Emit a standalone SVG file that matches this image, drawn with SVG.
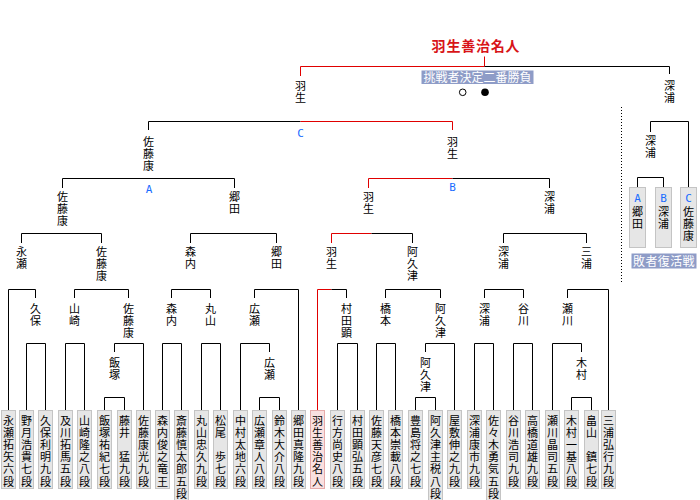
<svg xmlns="http://www.w3.org/2000/svg" width="700" height="500" viewBox="0 0 700 500">
<style>
text{font-family:"Liberation Sans","Noto Sans CJK JP","Noto Sans CJK SC",sans-serif;font-size:11px;fill:#000;text-anchor:middle}
.ln{fill:none;stroke:#000;stroke-width:1}
.rd{fill:none;stroke:#e00000;stroke-width:1}
.box{fill:#e6e6e6;stroke:#c4c4c4;stroke-width:1}
.pink{fill:#f9e0e0;stroke:#e6abab;stroke-width:1}
.abc{font-family:"DejaVu Sans Mono","Liberation Mono",monospace;font-size:11px;fill:#1a6cff}
.badge{fill:#8e9cc7}
.wt{fill:#fff;font-size:12px}
.title{font-size:14px;font-weight:bold;fill:#d81418;letter-spacing:0.8px}
</style>
<rect width="700" height="500" fill="#fff"/>

<g id="connectors">
<path class="rd" d="M300.5 76 V66.5 H484.5 M484.5 56.5 V66.5"/>
<path class="ln" d="M484.5 66.5 H669.5 V74"/>
<path class="ln" d="M148.5 130 V121.5 H300.5"/>
<path class="rd" d="M300.5 121.5 H452.5 V130"/>
<path class="ln" d="M650.5 132 V121.5 H688.5 V187.5 M637.5 187.5 V177.5 H663.5 V187.5"/>
<path class="ln" d="M62.5 188 V178.5 H234.5 V188"/>
<path class="rd" d="M368.5 188 V178.5 H452.5"/>
<path class="ln" d="M452.5 178.5 H549.5 V188"/>
<path class="ln" d="M21.5 243 V233.5 H101.5 V243 M190.5 243 V233.5 H276.5 V243 M503.5 243 V233.5 H586.5 V243"/>
<path class="rd" d="M331.5 243 V233.5 H371.5"/>
<path class="ln" d="M371.5 233.5 H412.5 V243"/>
<path class="ln" d="M8.5 410 V289.5 H35.5 V298 M74.5 298 V289.5 H128.5 V298 M171.5 298 V289.5 H210.5 V298 M254.5 298 V289.5 H298.5 V410 M385.5 298 V289.5 H440.5 V298 M484.5 298 V289.5 H523.5 V298 M567.5 298 V289.5 H608.5 V410"/>
<path class="rd" d="M317.5 410 V289.5 H331.5"/>
<path class="ln" d="M331.5 289.5 H346.5 V298"/>
<path class="ln" d="M26.5 410 V343.5 H45.5 V410 M65.5 410 V343.5 H84.5 V410 M114.5 352 V343.5 H143.5 V410 M162.5 410 V343.5 H181.5 V410 M201.5 410 V343.5 H220.5 V410 M240.5 410 V343.5 H269.5 V352 M337.5 410 V343.5 H357.5 V410 M376.5 410 V343.5 H395.5 V410 M425.5 352 V343.5 H454.5 V410 M474.5 410 V343.5 H493.5 V410 M513.5 410 V343.5 H532.5 V410 M552.5 410 V343.5 H581.5 V352"/>
<path class="ln" d="M104.5 410 V397.5 H124.5 V410 M259.5 410 V397.5 H279.5 V410 M415.5 410 V397.5 H435.5 V410 M571.5 410 V397.5 H591.5 V410"/>
<path class="ln" d="M621.5 107 V282" stroke-dasharray="1 2"/>
</g>

<g id="title">
<text class="title" x="476" y="50.5">羽生善治名人</text>
</g>
<g id="final-badge">
<rect class="badge" x="421.5" y="70.5" width="112" height="13.5"/>
<text class="wt" x="477.5" y="82">挑戦者決定二番勝負</text>
<circle cx="462.7" cy="92.3" r="3.3" fill="#fff" stroke="#000" stroke-width="1"/>
<circle cx="485" cy="92.3" r="3.8" fill="#000"/>
</g>

<g id="mark-C"><text class="abc" x="300.5" y="136.5">C</text></g>
<g id="mark-A"><text class="abc" x="149" y="192.5">A</text></g>
<g id="mark-B"><text class="abc" x="452.5" y="191">B</text></g>

<!-- level 1 -->
<g id="r1-habu"><text x="300.5" y="89.7"><tspan x="300.5" y="89.7">羽</tspan><tspan x="300.5" y="101.7">生</tspan></text></g>
<g id="r1-fukaura"><text x="669.5" y="89.7"><tspan x="669.5" y="89.7">深</tspan><tspan x="669.5" y="101.7">浦</tspan></text></g>
<!-- level 2 -->
<g id="r2-satoyasu"><text x="148.5" y="146.2"><tspan x="148.5" y="146.2">佐</tspan><tspan x="148.5" y="158.2">藤</tspan><tspan x="148.5" y="170.2">康</tspan></text></g>
<g id="r2-habu"><text x="452.5" y="145.5"><tspan x="452.5" y="145.5">羽</tspan><tspan x="452.5" y="157.5">生</tspan></text></g>
<g id="rf-fukaura"><text x="650.5" y="145"><tspan x="650.5" y="145">深</tspan><tspan x="650.5" y="157">浦</tspan></text></g>
<!-- level 3 -->
<g id="r3-satoyasu"><text x="62.5" y="201.4"><tspan x="62.5" y="201.4">佐</tspan><tspan x="62.5" y="213.4">藤</tspan><tspan x="62.5" y="225.4">康</tspan></text></g>
<g id="r3-goda"><text x="234.5" y="201.4"><tspan x="234.5" y="201.4">郷</tspan><tspan x="234.5" y="213.4">田</tspan></text></g>
<g id="r3-habu"><text x="368.5" y="201.4"><tspan x="368.5" y="201.4">羽</tspan><tspan x="368.5" y="213.4">生</tspan></text></g>
<g id="r3-fukaura"><text x="549.5" y="201.4"><tspan x="549.5" y="201.4">深</tspan><tspan x="549.5" y="213.4">浦</tspan></text></g>
<!-- level 4 -->
<g id="r4-nagase"><text x="21.5" y="256.4"><tspan x="21.5" y="256.4">永</tspan><tspan x="21.5" y="268.4">瀬</tspan></text></g>
<g id="r4-satoyasu"><text x="101.5" y="256.4"><tspan x="101.5" y="256.4">佐</tspan><tspan x="101.5" y="268.4">藤</tspan><tspan x="101.5" y="280.4">康</tspan></text></g>
<g id="r4-moriuchi"><text x="190.5" y="256.4"><tspan x="190.5" y="256.4">森</tspan><tspan x="190.5" y="268.4">内</tspan></text></g>
<g id="r4-goda"><text x="276.5" y="256.4"><tspan x="276.5" y="256.4">郷</tspan><tspan x="276.5" y="268.4">田</tspan></text></g>
<g id="r4-habu"><text x="331.5" y="256.4"><tspan x="331.5" y="256.4">羽</tspan><tspan x="331.5" y="268.4">生</tspan></text></g>
<g id="r4-akutsu"><text x="412.5" y="256.4"><tspan x="412.5" y="256.4">阿</tspan><tspan x="412.5" y="268.4">久</tspan><tspan x="412.5" y="280.4">津</tspan></text></g>
<g id="r4-fukaura"><text x="503.5" y="256.4"><tspan x="503.5" y="256.4">深</tspan><tspan x="503.5" y="268.4">浦</tspan></text></g>
<g id="r4-miura"><text x="586.5" y="256.4"><tspan x="586.5" y="256.4">三</tspan><tspan x="586.5" y="268.4">浦</tspan></text></g>
<!-- level 5 -->
<g id="r5-kubo"><text x="35.5" y="312.7"><tspan x="35.5" y="312.7">久</tspan><tspan x="35.5" y="324.7">保</tspan></text></g>
<g id="r5-yamasaki"><text x="74.5" y="312.7"><tspan x="74.5" y="312.7">山</tspan><tspan x="74.5" y="324.7">崎</tspan></text></g>
<g id="r5-satoyasu"><text x="128.5" y="312.7"><tspan x="128.5" y="312.7">佐</tspan><tspan x="128.5" y="324.7">藤</tspan><tspan x="128.5" y="336.7">康</tspan></text></g>
<g id="r5-moriuchi"><text x="171.5" y="312.7"><tspan x="171.5" y="312.7">森</tspan><tspan x="171.5" y="324.7">内</tspan></text></g>
<g id="r5-maruyama"><text x="210.5" y="312.7"><tspan x="210.5" y="312.7">丸</tspan><tspan x="210.5" y="324.7">山</tspan></text></g>
<g id="r5-hirose"><text x="254.5" y="312.7"><tspan x="254.5" y="312.7">広</tspan><tspan x="254.5" y="324.7">瀬</tspan></text></g>
<g id="r5-murata"><text x="346.5" y="312.7"><tspan x="346.5" y="312.7">村</tspan><tspan x="346.5" y="324.7">田</tspan><tspan x="346.5" y="336.7">顕</tspan></text></g>
<g id="r5-hashimoto"><text x="385.5" y="312.7"><tspan x="385.5" y="312.7">橋</tspan><tspan x="385.5" y="324.7">本</tspan></text></g>
<g id="r5-akutsu"><text x="440.5" y="312.7"><tspan x="440.5" y="312.7">阿</tspan><tspan x="440.5" y="324.7">久</tspan><tspan x="440.5" y="336.7">津</tspan></text></g>
<g id="r5-fukaura"><text x="484.5" y="312.7"><tspan x="484.5" y="312.7">深</tspan><tspan x="484.5" y="324.7">浦</tspan></text></g>
<g id="r5-tanigawa"><text x="523.5" y="312.7"><tspan x="523.5" y="312.7">谷</tspan><tspan x="523.5" y="324.7">川</tspan></text></g>
<g id="r5-segawa"><text x="567.5" y="312.7"><tspan x="567.5" y="312.7">瀬</tspan><tspan x="567.5" y="324.7">川</tspan></text></g>
<!-- level 6 -->
<g id="r6-iizuka"><text x="114.5" y="366.7"><tspan x="114.5" y="366.7">飯</tspan><tspan x="114.5" y="378.7">塚</tspan></text></g>
<g id="r6-hirose"><text x="269.5" y="366.7"><tspan x="269.5" y="366.7">広</tspan><tspan x="269.5" y="378.7">瀬</tspan></text></g>
<g id="r6-akutsu"><text x="425.5" y="366.7"><tspan x="425.5" y="366.7">阿</tspan><tspan x="425.5" y="378.7">久</tspan><tspan x="425.5" y="390.7">津</tspan></text></g>
<g id="r6-kimura"><text x="581.5" y="366.7"><tspan x="581.5" y="366.7">木</tspan><tspan x="581.5" y="378.7">村</tspan></text></g>

<!-- repechage boxes -->
<g id="rep-A"><rect class="box" x="629.5" y="187.5" width="16" height="60"/><text class="abc" x="637.5" y="201.5">A</text><text x="637.5" y="216.4"><tspan x="637.5" y="216.4">郷</tspan><tspan x="637.5" y="228.4">田</tspan></text></g>
<g id="rep-B"><rect class="box" x="655.5" y="187.5" width="16" height="60"/><text class="abc" x="663.5" y="201.5">B</text><text x="663.5" y="216.4"><tspan x="663.5" y="216.4">深</tspan><tspan x="663.5" y="228.4">浦</tspan></text></g>
<g id="rep-C"><rect class="box" x="680.5" y="187.5" width="16" height="60"/><text class="abc" x="688.5" y="201.5">C</text><text x="688.5" y="216.4"><tspan x="688.5" y="216.4">佐</tspan><tspan x="688.5" y="228.4">藤</tspan><tspan x="688.5" y="240.4">康</tspan></text></g>
<g id="rep-badge"><rect class="badge" x="631.5" y="253.5" width="65" height="15"/><text class="wt" x="664" y="265.5" style="letter-spacing:0.4px">敗者復活戦</text></g>

<!-- leaves -->
<g id="p00"><rect class="box" x="1.5" y="410.5" width="14" height="78"/><text x="8.5" y="424.5"><tspan x="8.5" y="424.5">永</tspan><tspan x="8.5" y="436.7">瀬</tspan><tspan x="8.5" y="448.9">拓</tspan><tspan x="8.5" y="461.1">矢</tspan><tspan x="8.5" y="473.3">六</tspan><tspan x="8.5" y="485.5">段</tspan></text></g>
<g id="p01"><rect class="box" x="19.5" y="410.5" width="14" height="78"/><text x="26.5" y="424.5"><tspan x="26.5" y="424.5">野</tspan><tspan x="26.5" y="436.7">月</tspan><tspan x="26.5" y="448.9">浩</tspan><tspan x="26.5" y="461.1">貴</tspan><tspan x="26.5" y="473.3">七</tspan><tspan x="26.5" y="485.5">段</tspan></text></g>
<g id="p02"><rect class="box" x="38.5" y="410.5" width="14" height="78"/><text x="45.5" y="424.5"><tspan x="45.5" y="424.5">久</tspan><tspan x="45.5" y="436.7">保</tspan><tspan x="45.5" y="448.9">利</tspan><tspan x="45.5" y="461.1">明</tspan><tspan x="45.5" y="473.3">九</tspan><tspan x="45.5" y="485.5">段</tspan></text></g>
<g id="p03"><rect class="box" x="58.5" y="410.5" width="14" height="78"/><text x="65.5" y="424.5"><tspan x="65.5" y="424.5">及</tspan><tspan x="65.5" y="436.7">川</tspan><tspan x="65.5" y="448.9">拓</tspan><tspan x="65.5" y="461.1">馬</tspan><tspan x="65.5" y="473.3">五</tspan><tspan x="65.5" y="485.5">段</tspan></text></g>
<g id="p04"><rect class="box" x="77.5" y="410.5" width="14" height="78"/><text x="84.5" y="424.5"><tspan x="84.5" y="424.5">山</tspan><tspan x="84.5" y="436.7">崎</tspan><tspan x="84.5" y="448.9">隆</tspan><tspan x="84.5" y="461.1">之</tspan><tspan x="84.5" y="473.3">八</tspan><tspan x="84.5" y="485.5">段</tspan></text></g>
<g id="p05"><rect class="box" x="97.5" y="410.5" width="14" height="78"/><text x="104.5" y="424.5"><tspan x="104.5" y="424.5">飯</tspan><tspan x="104.5" y="436.7">塚</tspan><tspan x="104.5" y="448.9">祐</tspan><tspan x="104.5" y="461.1">紀</tspan><tspan x="104.5" y="473.3">七</tspan><tspan x="104.5" y="485.5">段</tspan></text></g>
<g id="p06"><rect class="box" x="117.5" y="410.5" width="14" height="78"/><text x="124.5" y="424.5"><tspan x="124.5" y="424.5">藤</tspan><tspan x="124.5" y="436.7">井</tspan><tspan x="124.5" y="461.1">猛</tspan><tspan x="124.5" y="473.3">九</tspan><tspan x="124.5" y="485.5">段</tspan></text></g>
<g id="p07"><rect class="box" x="136.5" y="410.5" width="14" height="78"/><text x="143.5" y="424.5"><tspan x="143.5" y="424.5">佐</tspan><tspan x="143.5" y="436.7">藤</tspan><tspan x="143.5" y="448.9">康</tspan><tspan x="143.5" y="461.1">光</tspan><tspan x="143.5" y="473.3">九</tspan><tspan x="143.5" y="485.5">段</tspan></text></g>
<g id="p08"><rect class="box" x="155.5" y="410.5" width="14" height="78"/><text x="162.5" y="424.5"><tspan x="162.5" y="424.5">森</tspan><tspan x="162.5" y="436.7">内</tspan><tspan x="162.5" y="448.9">俊</tspan><tspan x="162.5" y="461.1">之</tspan><tspan x="162.5" y="473.3">竜</tspan><tspan x="162.5" y="485.5">王</tspan></text></g>
<g id="p09"><rect class="box" x="174.5" y="410.5" width="14" height="91"/><text x="181.5" y="424.5"><tspan x="181.5" y="424.5">斎</tspan><tspan x="181.5" y="436.7">藤</tspan><tspan x="181.5" y="448.9">慎</tspan><tspan x="181.5" y="461.1">太</tspan><tspan x="181.5" y="473.3">郎</tspan><tspan x="181.5" y="485.5">五</tspan><tspan x="181.5" y="497.5">段</tspan></text></g>
<g id="p10"><rect class="box" x="194.5" y="410.5" width="14" height="78"/><text x="201.5" y="424.5"><tspan x="201.5" y="424.5">丸</tspan><tspan x="201.5" y="436.7">山</tspan><tspan x="201.5" y="448.9">忠</tspan><tspan x="201.5" y="461.1">久</tspan><tspan x="201.5" y="473.3">九</tspan><tspan x="201.5" y="485.5">段</tspan></text></g>
<g id="p11"><rect class="box" x="213.5" y="410.5" width="14" height="78"/><text x="220.5" y="424.5"><tspan x="220.5" y="424.5">松</tspan><tspan x="220.5" y="436.7">尾</tspan><tspan x="220.5" y="461.1">歩</tspan><tspan x="220.5" y="473.3">七</tspan><tspan x="220.5" y="485.5">段</tspan></text></g>
<g id="p12"><rect class="box" x="233.5" y="410.5" width="14" height="78"/><text x="240.5" y="424.5"><tspan x="240.5" y="424.5">中</tspan><tspan x="240.5" y="436.7">村</tspan><tspan x="240.5" y="448.9">太</tspan><tspan x="240.5" y="461.1">地</tspan><tspan x="240.5" y="473.3">六</tspan><tspan x="240.5" y="485.5">段</tspan></text></g>
<g id="p13"><rect class="box" x="252.5" y="410.5" width="14" height="78"/><text x="259.5" y="424.5"><tspan x="259.5" y="424.5">広</tspan><tspan x="259.5" y="436.7">瀬</tspan><tspan x="259.5" y="448.9">章</tspan><tspan x="259.5" y="461.1">人</tspan><tspan x="259.5" y="473.3">八</tspan><tspan x="259.5" y="485.5">段</tspan></text></g>
<g id="p14"><rect class="box" x="272.5" y="410.5" width="14" height="78"/><text x="279.5" y="424.5"><tspan x="279.5" y="424.5">鈴</tspan><tspan x="279.5" y="436.7">木</tspan><tspan x="279.5" y="448.9">大</tspan><tspan x="279.5" y="461.1">介</tspan><tspan x="279.5" y="473.3">八</tspan><tspan x="279.5" y="485.5">段</tspan></text></g>
<g id="p15"><rect class="box" x="291.5" y="410.5" width="14" height="78"/><text x="298.5" y="424.5"><tspan x="298.5" y="424.5">郷</tspan><tspan x="298.5" y="436.7">田</tspan><tspan x="298.5" y="448.9">真</tspan><tspan x="298.5" y="461.1">隆</tspan><tspan x="298.5" y="473.3">九</tspan><tspan x="298.5" y="485.5">段</tspan></text></g>
<g id="p16"><rect class="pink" x="310.5" y="410.5" width="14" height="78"/><text x="317.5" y="424.5"><tspan x="317.5" y="424.5">羽</tspan><tspan x="317.5" y="436.7">生</tspan><tspan x="317.5" y="448.9">善</tspan><tspan x="317.5" y="461.1">治</tspan><tspan x="317.5" y="473.3">名</tspan><tspan x="317.5" y="485.5">人</tspan></text></g>
<g id="p17"><rect class="box" x="330.5" y="410.5" width="14" height="78"/><text x="337.5" y="424.5"><tspan x="337.5" y="424.5">行</tspan><tspan x="337.5" y="436.7">方</tspan><tspan x="337.5" y="448.9">尚</tspan><tspan x="337.5" y="461.1">史</tspan><tspan x="337.5" y="473.3">八</tspan><tspan x="337.5" y="485.5">段</tspan></text></g>
<g id="p18"><rect class="box" x="350.5" y="410.5" width="14" height="78"/><text x="357.5" y="424.5"><tspan x="357.5" y="424.5">村</tspan><tspan x="357.5" y="436.7">田</tspan><tspan x="357.5" y="448.9">顕</tspan><tspan x="357.5" y="461.1">弘</tspan><tspan x="357.5" y="473.3">五</tspan><tspan x="357.5" y="485.5">段</tspan></text></g>
<g id="p19"><rect class="box" x="369.5" y="410.5" width="14" height="78"/><text x="376.5" y="424.5"><tspan x="376.5" y="424.5">佐</tspan><tspan x="376.5" y="436.7">藤</tspan><tspan x="376.5" y="448.9">天</tspan><tspan x="376.5" y="461.1">彦</tspan><tspan x="376.5" y="473.3">七</tspan><tspan x="376.5" y="485.5">段</tspan></text></g>
<g id="p20"><rect class="box" x="388.5" y="410.5" width="14" height="78"/><text x="395.5" y="424.5"><tspan x="395.5" y="424.5">橋</tspan><tspan x="395.5" y="436.7">本</tspan><tspan x="395.5" y="448.9">崇</tspan><tspan x="395.5" y="461.1">載</tspan><tspan x="395.5" y="473.3">八</tspan><tspan x="395.5" y="485.5">段</tspan></text></g>
<g id="p21"><rect class="box" x="408.5" y="410.5" width="14" height="78"/><text x="415.5" y="424.5"><tspan x="415.5" y="424.5">豊</tspan><tspan x="415.5" y="436.7">島</tspan><tspan x="415.5" y="448.9">将</tspan><tspan x="415.5" y="461.1">之</tspan><tspan x="415.5" y="473.3">七</tspan><tspan x="415.5" y="485.5">段</tspan></text></g>
<g id="p22"><rect class="box" x="428.5" y="410.5" width="14" height="91"/><text x="435.5" y="424.5"><tspan x="435.5" y="424.5">阿</tspan><tspan x="435.5" y="436.7">久</tspan><tspan x="435.5" y="448.9">津</tspan><tspan x="435.5" y="461.1">主</tspan><tspan x="435.5" y="473.3">税</tspan><tspan x="435.5" y="485.5">八</tspan><tspan x="435.5" y="497.5">段</tspan></text></g>
<g id="p23"><rect class="box" x="447.5" y="410.5" width="14" height="78"/><text x="454.5" y="424.5"><tspan x="454.5" y="424.5">屋</tspan><tspan x="454.5" y="436.7">敷</tspan><tspan x="454.5" y="448.9">伸</tspan><tspan x="454.5" y="461.1">之</tspan><tspan x="454.5" y="473.3">九</tspan><tspan x="454.5" y="485.5">段</tspan></text></g>
<g id="p24"><rect class="box" x="467.5" y="410.5" width="14" height="78"/><text x="474.5" y="424.5"><tspan x="474.5" y="424.5">深</tspan><tspan x="474.5" y="436.7">浦</tspan><tspan x="474.5" y="448.9">康</tspan><tspan x="474.5" y="461.1">市</tspan><tspan x="474.5" y="473.3">九</tspan><tspan x="474.5" y="485.5">段</tspan></text></g>
<g id="p25"><rect class="box" x="486.5" y="410.5" width="14" height="91"/><text x="493.5" y="424.5"><tspan x="493.5" y="424.5">佐</tspan><tspan x="493.5" y="436.7">々</tspan><tspan x="493.5" y="448.9">木</tspan><tspan x="493.5" y="461.1">勇</tspan><tspan x="493.5" y="473.3">気</tspan><tspan x="493.5" y="485.5">五</tspan><tspan x="493.5" y="497.5">段</tspan></text></g>
<g id="p26"><rect class="box" x="506.5" y="410.5" width="14" height="78"/><text x="513.5" y="424.5"><tspan x="513.5" y="424.5">谷</tspan><tspan x="513.5" y="436.7">川</tspan><tspan x="513.5" y="448.9">浩</tspan><tspan x="513.5" y="461.1">司</tspan><tspan x="513.5" y="473.3">九</tspan><tspan x="513.5" y="485.5">段</tspan></text></g>
<g id="p27"><rect class="box" x="525.5" y="410.5" width="14" height="78"/><text x="532.5" y="424.5"><tspan x="532.5" y="424.5">高</tspan><tspan x="532.5" y="436.7">橋</tspan><tspan x="532.5" y="448.9">道</tspan><tspan x="532.5" y="461.1">雄</tspan><tspan x="532.5" y="473.3">九</tspan><tspan x="532.5" y="485.5">段</tspan></text></g>
<g id="p28"><rect class="box" x="545.5" y="410.5" width="14" height="78"/><text x="552.5" y="424.5"><tspan x="552.5" y="424.5">瀬</tspan><tspan x="552.5" y="436.7">川</tspan><tspan x="552.5" y="448.9">晶</tspan><tspan x="552.5" y="461.1">司</tspan><tspan x="552.5" y="473.3">五</tspan><tspan x="552.5" y="485.5">段</tspan></text></g>
<g id="p29"><rect class="box" x="564.5" y="410.5" width="14" height="78"/><text x="571.5" y="424.5"><tspan x="571.5" y="424.5">木</tspan><tspan x="571.5" y="436.7">村</tspan><tspan x="571.5" y="448.9">一</tspan><tspan x="571.5" y="461.1">基</tspan><tspan x="571.5" y="473.3">八</tspan><tspan x="571.5" y="485.5">段</tspan></text></g>
<g id="p30"><rect class="box" x="584.5" y="410.5" width="14" height="78"/><text x="591.5" y="424.5"><tspan x="591.5" y="424.5">畠</tspan><tspan x="591.5" y="436.7">山</tspan><tspan x="591.5" y="461.1">鎮</tspan><tspan x="591.5" y="473.3">七</tspan><tspan x="591.5" y="485.5">段</tspan></text></g>
<g id="p31"><rect class="box" x="601.5" y="410.5" width="14" height="78"/><text x="608.5" y="424.5"><tspan x="608.5" y="424.5">三</tspan><tspan x="608.5" y="436.7">浦</tspan><tspan x="608.5" y="448.9">弘</tspan><tspan x="608.5" y="461.1">行</tspan><tspan x="608.5" y="473.3">九</tspan><tspan x="608.5" y="485.5">段</tspan></text></g>
</svg>
